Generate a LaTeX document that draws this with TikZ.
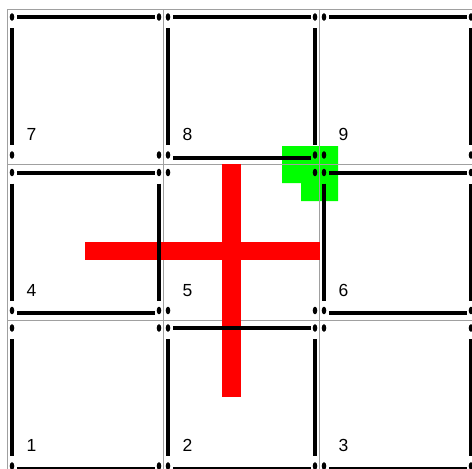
\documentclass[tikz,border=0pt]{standalone}
\usepackage{fontspec}
\setmainfont{Liberation Sans}
\usepackage{tikz}
\definecolor{gridgray}{RGB}{160,160,160}
\definecolor{crossred}{RGB}{255,0,0}
\definecolor{markgreen}{RGB}{0,255,0}
% wall segments of one cell (local coordinates)
\newcommand{\wallT}{\draw[wall] (10,8) -- (148,8);}
\newcommand{\wallB}{\draw[wall] (10,148.5) -- (148,148.5);}
\newcommand{\wallL}{\draw[wall] (5,19) -- (5,136);}
\newcommand{\wallR}{\draw[wall] (152,19) -- (152,136);}
\newcommand{\wallN}{}
\begin{document}
\begin{tikzpicture}[x=1pt, y=-1pt,
  wall/.style={line width=4pt, draw=black},
  peg/.style={fill=black},
  gridline/.style={draw=gridgray, line width=1pt},
  cellnum/.style={font=\fontsize{17.5}{20}\selectfont, anchor=base west, inner sep=0pt}
]
\useasboundingbox (0,0) rectangle (472,469);
\clip (0,0) rectangle (472,469);
% green marker
\fill[markgreen] (282,146) -- (338,146) -- (338,201) -- (301,201) -- (301,183) -- (282,183) -- cycle;
% grid
\foreach \gx in {7,163,319} \draw[gridline] (\gx,9) -- (\gx,469);
\foreach \gy in {9,164.5,320} \draw[gridline] (7,\gy) -- (472,\gy);
% red cross
\fill[crossred] (222,164) rectangle (241,397);
\fill[crossred] (85,242) rectangle (320,260);
% cells
\foreach \n/\c/\r/\sides in {7/0/0/{T,L}, 8/1/0/{T,L,R,B}, 9/2/0/{T,R},
    4/0/1/{T,L,R,B}, 5/1/1/{N}, 6/2/1/{T,L,R,B},
    1/0/2/{L,B}, 2/1/2/{T,L,R,B}, 3/2/2/{R,B}}{
  \begin{scope}[shift={(7+156*\c,9+155.5*\r)}]
    \foreach \px/\py in {5/8,152/8,5/146,152/146}
      \fill[peg] (\px,\py) ellipse [x radius=2.3pt, y radius=3.8pt];
    \foreach \s in \sides {\csname wall\s\endcsname}
    \node[cellnum] (num\n) at (19.5,131.5) {\n};
  \end{scope}
}
\end{tikzpicture}
\end{document}
